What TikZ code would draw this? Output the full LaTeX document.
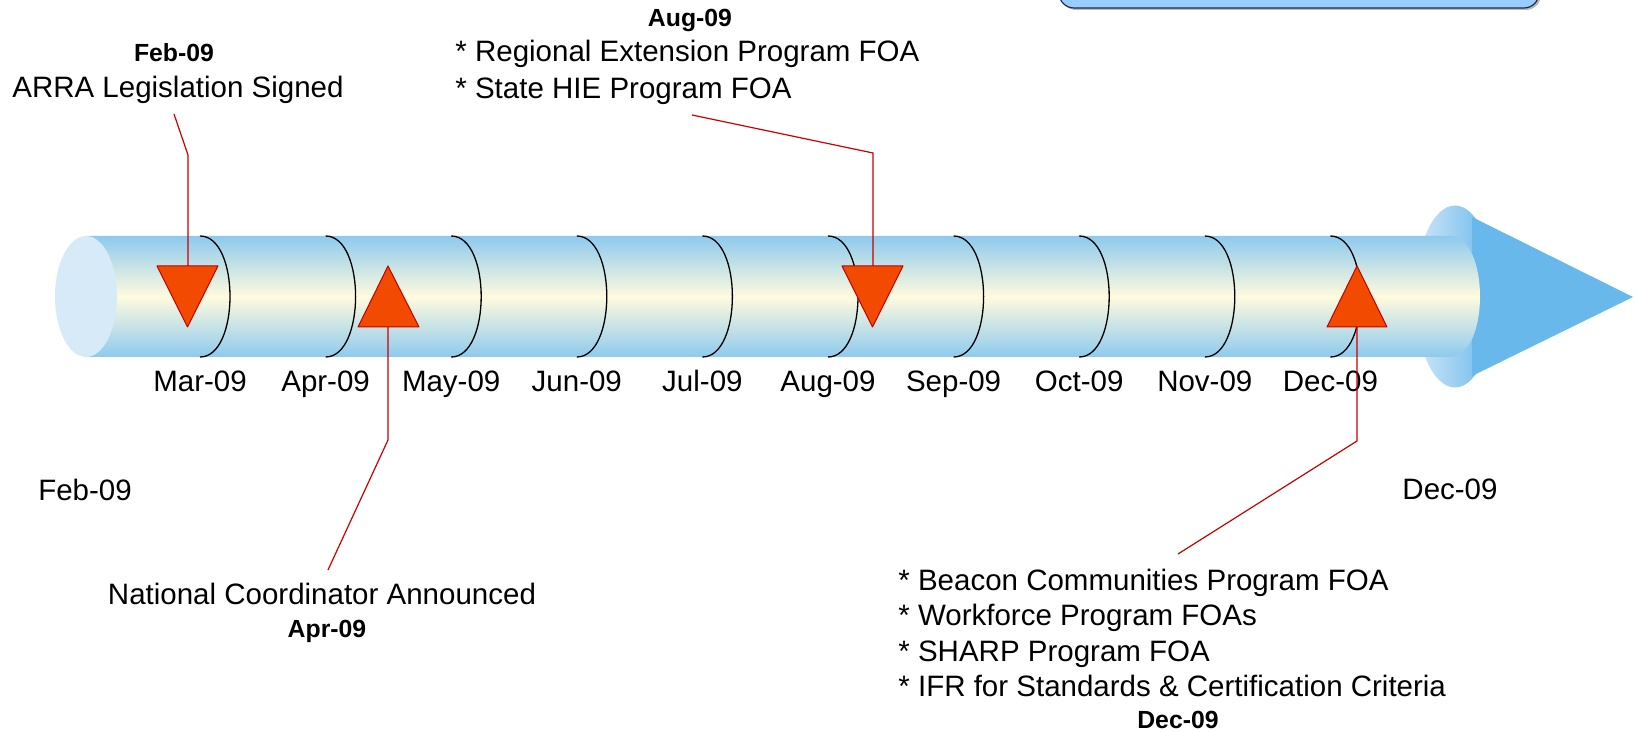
\documentclass[tikz,border=0pt]{standalone}
\usepackage{fontspec}
\setmainfont{Liberation Sans}
\definecolor{tubeblue}{RGB}{141,202,238}
\definecolor{tubemid}{RGB}{255,251,222}
\definecolor{capcol}{RGB}{214,234,247}
\definecolor{coneblue}{RGB}{104,184,236}
\definecolor{conelight}{RGB}{208,231,248}
\definecolor{trifill}{RGB}{242,74,0}
\definecolor{triedge}{RGB}{192,0,0}
\definecolor{connred}{RGB}{200,0,0}
\definecolor{boxfill}{RGB}{153,204,255}
\definecolor{boxedge}{RGB}{30,45,75}
\begin{document}
\begin{tikzpicture}[x=0.5pt,y=-0.5pt,
  lbl/.style={inner sep=0pt, anchor=base, font=\fontsize{14.75}{17.5}\selectfont},
  llbl/.style={lbl, anchor=base west},
  blbl/.style={inner sep=0pt, anchor=base, font=\fontsize{12.4}{15}\selectfont\bfseries},
  conn/.style={draw=connred, line width=0.6pt},
  marker/.style={fill=trifill, draw=triedge, line width=0.5pt, line join=round},
  ring/.style={draw=black, line width=0.65pt}]
\useasboundingbox (0,0) rectangle (1635,732);

% top-right box (cut by the page edge)
\begin{scope}
\clip (0,0) rectangle (1635,732);
\fill[gray!55, rounded corners=7.5pt] (1061,-40) rectangle (1541,10);
\draw[boxedge, fill=boxfill, line width=0.6pt, rounded corners=7.5pt] (1059,-40) rectangle (1539,8);
\end{scope}

% arrow head (cone)
\shade[left color=conelight, right color=coneblue] (1455,296.5) ellipse [x radius=40, y radius=91];
\fill[coneblue] (1472,217) -- (1633,297) -- (1472,376) -- cycle;

% tube body
\shade[top color=tubeblue, bottom color=tubeblue, middle color=tubemid]
  (86,236) -- (1450,236) .. controls (1490,236) and (1490,357) .. (1450,357) -- (86,357) -- cycle;
\fill[capcol] (86,296.5) ellipse [x radius=31, y radius=60.5];

% month rings and labels
\foreach \m [count=\k from 0] in {Mar-09,Apr-09,May-09,Jun-09,Jul-09,Aug-09,Sep-09,Oct-09,Nov-09,Dec-09}{
  \pgfmathsetmacro{\xx}{200+125.6*\k}
  \draw[ring] (\xx,236) .. controls (\xx+40,236) and (\xx+40,357) .. (\xx,357);
  \node[lbl] (m\k) at (\xx,392) {\m};
}

% end labels
\node[lbl] (startlbl) at (85,501) {Feb-09};
\node[lbl] (endlbl) at (1450,500) {Dec-09};

% Feb-09 event
\node[blbl] (febdate) at (174,62) {Feb-09};
\node[lbl] (febtxt) at (178,98) {ARRA Legislation Signed};
\coordinate (febA) at (174,114);
\coordinate (febB) at (188,155);
\coordinate (febT) at (188,266);
\draw[marker] (157,266) -- (218,266) -- (187.5,327) -- cycle;
\draw[conn] (febA) -- (febB) -- (febT);

% Apr-09 event
\node[lbl] (aprtxt) at (322,605) {National Coordinator Announced};
\node[blbl] (aprdate) at (327,638) {Apr-09};
\coordinate (aprT) at (388,327);
\coordinate (aprB) at (388,440);
\coordinate (aprA) at (328,570);
\draw[marker] (388,266) -- (419,327) -- (358,327) -- cycle;
\draw[conn] (aprT) -- (aprB) -- (aprA);

% Aug-09 event
\node[blbl] (augdate) at (690,27) {Aug-09};
\node[llbl] (aug1) at (455,62) {* Regional Extension Program FOA};
\node[llbl] (aug2) at (455,99) {* State HIE Program FOA};
\coordinate (augA) at (692,115);
\coordinate (augB) at (873,153);
\coordinate (augT) at (873,266);
\draw[marker] (842,266) -- (903,266) -- (872.5,327) -- cycle;
\draw[conn] (augA) -- (augB) -- (augT);

% Dec-09 event
\node[llbl] (dec1) at (898,591) {* Beacon Communities Program FOA};
\node[llbl] (dec2) at (898,626) {* Workforce Program FOAs};
\node[llbl] (dec3) at (898,661.5) {* SHARP Program FOA};
\node[llbl] (dec4) at (898,697) {* IFR for Standards \& Certification Criteria};
\node[blbl] (decdate) at (1178,729) {Dec-09};
\coordinate (decT) at (1357,327);
\coordinate (decB) at (1357,441);
\coordinate (decA) at (1178,554);
\draw[marker] (1357,266) -- (1387,327) -- (1327,327) -- cycle;
\draw[conn] (decT) -- (decB) -- (decA);
\end{tikzpicture}
\end{document}
